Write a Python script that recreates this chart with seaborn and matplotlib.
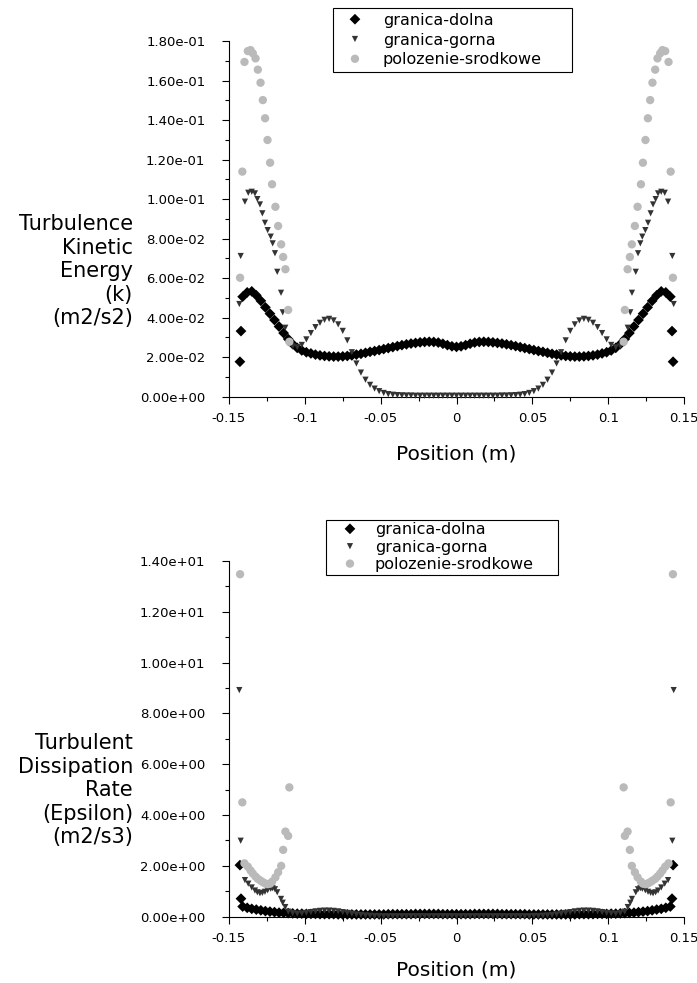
import matplotlib
matplotlib.use('Agg')
import matplotlib.pyplot as plt
from matplotlib.ticker import MultipleLocator
import seaborn as sns

# Sample positions along the lines (m)
pos_dolna = [-0.1428, -0.1421, -0.141, -0.138, -0.135, -0.132, -0.129, -0.126, -0.123, -0.120,
             -0.117, -0.114, -0.111, -0.108, -0.105, -0.102, -0.099, -0.096, -0.093, -0.090,
             -0.087, -0.084, -0.081, -0.078, -0.075, -0.072, -0.069, -0.066, -0.063, -0.060,
             -0.057, -0.054, -0.051, -0.048, -0.045, -0.042, -0.039, -0.036, -0.033, -0.030,
             -0.027, -0.024, -0.021, -0.018, -0.015, -0.012, -0.009, -0.006, -0.003, 0.000,
             0.003, 0.006, 0.009, 0.012, 0.015, 0.018, 0.021, 0.024, 0.027,
             0.030, 0.033, 0.036, 0.039, 0.042, 0.045, 0.048, 0.051, 0.054, 0.057,
             0.060, 0.063, 0.066, 0.069, 0.072, 0.075, 0.078, 0.081, 0.084, 0.087,
             0.090, 0.093, 0.096, 0.099, 0.102, 0.105, 0.108, 0.111, 0.114, 0.117,
             0.120, 0.123, 0.126, 0.129, 0.132, 0.135, 0.138, 0.141, 0.1421, 0.1428]

pos_gorna = [-0.1432, -0.1423, -0.1395, -0.1373, -0.1350, -0.1329, -0.1313, -0.1296, -0.1280, -0.1263,
             -0.1245, -0.1225, -0.1212, -0.1197, -0.1182, -0.1157, -0.1146, -0.1129, -0.1109,
             -0.108, -0.105, -0.102, -0.099, -0.096, -0.093, -0.090, -0.087, -0.084, -0.081,
             -0.078, -0.075, -0.072, -0.069, -0.066, -0.063, -0.060, -0.057, -0.054, -0.051,
             -0.048, -0.045, -0.042, -0.039, -0.036, -0.033, -0.030, -0.027, -0.024, -0.021,
             -0.018, -0.015, -0.012, -0.009, -0.006, -0.003, 0.000,
             0.003, 0.006, 0.009, 0.012, 0.015, 0.018,
             0.021, 0.024, 0.027, 0.030, 0.033, 0.036, 0.039, 0.042, 0.045, 0.048,
             0.051, 0.054, 0.057, 0.060, 0.063, 0.066, 0.069, 0.072, 0.075, 0.078,
             0.081, 0.084, 0.087, 0.090, 0.093, 0.096, 0.099, 0.102, 0.105, 0.108,
             0.1109, 0.1129, 0.1146, 0.1157, 0.1182, 0.1197, 0.1212, 0.1225, 0.1245,
             0.1263, 0.1280, 0.1296, 0.1313, 0.1329, 0.1350, 0.1373, 0.1395, 0.1423, 0.1432]

pos_srodek = [-0.1427, -0.1412, -0.1398, -0.1376, -0.1358, -0.1343, -0.1325, -0.1310, -0.1292, -0.1277,
              -0.1262, -0.1246, -0.1229, -0.1216, -0.1194, -0.1176, -0.1156, -0.1143, -0.1128, -0.1110,
              -0.1102,
              0.1102, 0.1110, 0.1128, 0.1143, 0.1156, 0.1176, 0.1194, 0.1216, 0.1229, 0.1246,
              0.1262, 0.1277, 0.1292, 0.1310, 0.1325, 0.1343, 0.1358, 0.1376, 0.1398, 0.1412,
              0.1427]

# Turbulence kinetic energy k (m2/s2)
k_dolna = [0.0177, 0.0332, 0.0506, 0.0528, 0.0533, 0.0513, 0.0485, 0.0452, 0.0420, 0.0388,
           0.0355, 0.0322, 0.0292, 0.0266, 0.0247, 0.0234, 0.0225, 0.0219, 0.0213, 0.0209,
           0.0206, 0.0204, 0.0203, 0.0203, 0.0204, 0.0206, 0.0209, 0.0213, 0.0217, 0.0222,
           0.0227, 0.0231, 0.0236, 0.0241, 0.0246, 0.0251, 0.0256, 0.0261, 0.0265, 0.0269,
           0.0272, 0.0275, 0.0277, 0.0278, 0.0277, 0.0274, 0.0268, 0.0261, 0.0255, 0.0252,
           0.0255, 0.0261, 0.0268, 0.0274, 0.0277, 0.0278, 0.0277, 0.0275, 0.0272,
           0.0269, 0.0265, 0.0261, 0.0256, 0.0251, 0.0246, 0.0241, 0.0236, 0.0231, 0.0227,
           0.0222, 0.0217, 0.0213, 0.0209, 0.0206, 0.0204, 0.0203, 0.0203, 0.0204, 0.0206,
           0.0209, 0.0213, 0.0219, 0.0225, 0.0234, 0.0247, 0.0266, 0.0292, 0.0322, 0.0355,
           0.0388, 0.0420, 0.0452, 0.0485, 0.0513, 0.0533, 0.0528, 0.0506, 0.0332, 0.0177]

k_gorna = [0.0469, 0.0712, 0.0987, 0.1032, 0.1037, 0.1029, 0.1000, 0.0973, 0.0928, 0.0880,
           0.0843, 0.0810, 0.0776, 0.0726, 0.0632, 0.0526, 0.0427, 0.0349, 0.0270,
           0.0255, 0.0250, 0.0262, 0.0290, 0.0322, 0.0352, 0.0374, 0.0389, 0.0394, 0.0386,
           0.0366, 0.0333, 0.0285, 0.0225, 0.0168, 0.0122, 0.0086, 0.0060, 0.0041, 0.0028,
           0.0019, 0.0013, 0.0010, 0.0008, 0.0007, 0.0006, 0.0006, 0.0005, 0.0005, 0.0005,
           0.0005, 0.0005, 0.0005, 0.0005, 0.0005, 0.0005, 0.0005,
           0.0005, 0.0005, 0.0005, 0.0005, 0.0005, 0.0005,
           0.0005, 0.0005, 0.0005, 0.0006, 0.0006, 0.0007, 0.0008, 0.0010, 0.0013, 0.0019,
           0.0028, 0.0041, 0.0060, 0.0086, 0.0122, 0.0168, 0.0225, 0.0285, 0.0333, 0.0366,
           0.0386, 0.0394, 0.0389, 0.0374, 0.0352, 0.0322, 0.0290, 0.0262, 0.0250, 0.0255,
           0.0270, 0.0349, 0.0427, 0.0526, 0.0632, 0.0726, 0.0776, 0.0810, 0.0843,
           0.0880, 0.0928, 0.0973, 0.1000, 0.1029, 0.1037, 0.1032, 0.0987, 0.0712, 0.0469]

k_srodek = [0.0602, 0.1139, 0.1694, 0.1749, 0.1754, 0.1738, 0.1712, 0.1655, 0.1589, 0.1501,
            0.1409, 0.1299, 0.1184, 0.1075, 0.0961, 0.0864, 0.0771, 0.0707, 0.0645, 0.0439,
            0.0278,
            0.0278, 0.0439, 0.0645, 0.0707, 0.0771, 0.0864, 0.0961, 0.1075, 0.1184, 0.1299,
            0.1409, 0.1501, 0.1589, 0.1655, 0.1712, 0.1738, 0.1754, 0.1749, 0.1694, 0.1139,
            0.0602]

# Turbulent dissipation rate epsilon (m2/s3)
eps_dolna = [2.03, 0.71, 0.40, 0.35, 0.31, 0.28, 0.25, 0.22, 0.20, 0.18,
             0.16, 0.15, 0.14, 0.13, 0.12, 0.12, 0.11, 0.11, 0.11, 0.10,
             0.10, 0.10, 0.10, 0.09, 0.09, 0.09, 0.09, 0.09, 0.09, 0.09,
             0.09, 0.09, 0.09, 0.09, 0.10, 0.10, 0.10, 0.10, 0.10, 0.10,
             0.11, 0.11, 0.11, 0.11, 0.11, 0.11, 0.10, 0.10, 0.10, 0.10,
             0.10, 0.10, 0.10, 0.11, 0.11, 0.11, 0.11, 0.11, 0.11,
             0.10, 0.10, 0.10, 0.10, 0.10, 0.10, 0.09, 0.09, 0.09, 0.09,
             0.09, 0.09, 0.09, 0.09, 0.09, 0.09, 0.09, 0.10, 0.10, 0.10,
             0.10, 0.11, 0.11, 0.11, 0.12, 0.12, 0.13, 0.14, 0.15, 0.16,
             0.18, 0.20, 0.22, 0.25, 0.28, 0.31, 0.35, 0.40, 0.71, 2.03]

eps_gorna = [8.92, 2.99, 1.44, 1.30, 1.15, 1.03, 0.96, 0.92, 0.94, 0.98,
             1.04, 1.10, 1.12, 1.08, 0.96, 0.70, 0.55, 0.38, 0.20,
             0.14, 0.12, 0.13, 0.15, 0.18, 0.21, 0.23, 0.24, 0.24, 0.23,
             0.21, 0.18, 0.15, 0.12, 0.09, 0.07, 0.05, 0.04, 0.03, 0.03,
             0.02, 0.02, 0.02, 0.02, 0.02, 0.02, 0.02, 0.02, 0.02, 0.02,
             0.02, 0.02, 0.02, 0.02, 0.02, 0.02, 0.02,
             0.02, 0.02, 0.02, 0.02, 0.02, 0.02,
             0.02, 0.02, 0.02, 0.02, 0.02, 0.02, 0.02, 0.02, 0.02, 0.02,
             0.03, 0.03, 0.04, 0.05, 0.07, 0.09, 0.12, 0.15, 0.18, 0.21,
             0.23, 0.24, 0.24, 0.23, 0.21, 0.18, 0.15, 0.13, 0.12, 0.14,
             0.20, 0.38, 0.55, 0.70, 0.96, 1.08, 1.12, 1.10, 1.04,
             0.98, 0.94, 0.92, 0.96, 1.03, 1.15, 1.30, 1.44, 2.99, 8.92]

eps_srodek = [13.48, 4.50, 2.10, 1.97, 1.82, 1.70, 1.58, 1.49, 1.42, 1.36,
              1.31, 1.28, 1.30, 1.38, 1.55, 1.75, 2.00, 2.63, 3.35, 3.18,
              5.09,
              5.09, 3.18, 3.35, 2.63, 2.00, 1.75, 1.55, 1.38, 1.30, 1.28,
              1.31, 1.36, 1.42, 1.49, 1.58, 1.70, 1.82, 1.97, 2.10, 4.50,
              13.48]

series_names = ['granica-dolna', 'granica-gorna', 'polozenie-srodkowe']

x_ticks = [-0.15, -0.1, -0.05, 0, 0.05, 0.1, 0.15]
x_tick_labels = ['-0.15', '-0.1', '-0.05', '0', '0.05', '0.1', '0.15']
k_ticks = [0.0, 0.02, 0.04, 0.06, 0.08, 0.10, 0.12, 0.14, 0.16, 0.18]
eps_ticks = [0.0, 2.0, 4.0, 6.0, 8.0, 10.0, 12.0, 14.0]

sns.set_style('ticks', rc={'axes.edgecolor': 'black', 'xtick.color': 'black',
                           'ytick.color': 'black', 'text.color': 'black'})
plt.rcParams['font.family'] = ['DejaVu Sans']

fig = plt.figure(figsize=(6.97, 9.83), dpi=100)
W, H = 697, 983
ax_k = fig.add_axes([229 / W, 1 - 396.7 / H, 455 / W, 355.7 / H])
ax_e = fig.add_axes([229 / W, 1 - 916.7 / H, 455 / W, 355.7 / H])

styles = [('D', '#000000', 30), ('v', '#333333', 20), ('o', '#bababa', 36)]


def draw(ax, xs, ys, ticks, minor):
    for name, x, y, (m, c, s) in zip(series_names, xs, ys, styles):
        sns.scatterplot(x=x, y=y, ax=ax, marker=m, color=c, s=s, linewidth=0,
                        edgecolor='none', label=name, clip_on=False, zorder=3)
    ax.set_xlim(-0.15, 0.15)
    ax.set_ylim(ticks[0], ticks[-1])
    ax.set_xticks(x_ticks)
    ax.set_xticklabels(x_tick_labels)
    ax.set_yticks(ticks)
    ax.set_yticklabels(['%.2e' % t for t in ticks])
    ax.xaxis.set_minor_locator(MultipleLocator(0.025))
    ax.yaxis.set_minor_locator(MultipleLocator(minor))
    ax.tick_params(which='major', direction='out', length=5, width=0.8, labelsize=9.5)
    ax.tick_params(which='minor', direction='out', length=3, width=0.8)
    ax.tick_params(axis='y', which='major', pad=12)
    ax.tick_params(axis='x', which='major', pad=6)
    ax.set_xlabel('')
    ax.set_ylabel('')
    for sp in ['left', 'bottom']:
        ax.spines[sp].set_linewidth(0.8)
    sns.despine(ax=ax)


draw(ax_k, [pos_dolna, pos_gorna, pos_srodek], [k_dolna, k_gorna, k_srodek], k_ticks, 0.01)
draw(ax_e, [pos_dolna, pos_gorna, pos_srodek], [eps_dolna, eps_gorna, eps_srodek], eps_ticks, 1.0)

leg = ax_k.legend(loc='upper left', bbox_to_anchor=(333 / W, 1 - 83 / H, 239 / W, 75 / H),
                  bbox_transform=fig.transFigure, mode='expand', borderaxespad=0,
                  fontsize=11.5, handlelength=2.15, handletextpad=0.675, borderpad=0.3,
                  labelspacing=0.3, scatteryoffsets=[0.5], fancybox=False, framealpha=1)
leg.get_frame().set_edgecolor('black')
leg.get_frame().set_linewidth(0.8)

leg = ax_e.legend(loc='upper left', bbox_to_anchor=(326 / W, 1 - 585 / H, 232 / W, 65 / H),
                  bbox_transform=fig.transFigure, mode='expand', borderaxespad=0,
                  fontsize=11.5, handlelength=2.7, handletextpad=0.21, borderpad=0.15,
                  labelspacing=0.15, scatteryoffsets=[0.5], fancybox=False, framealpha=1)
leg.get_frame().set_edgecolor('black')
leg.get_frame().set_linewidth(0.8)

fig.text(133 / W, 1 - 214 / H, 'Turbulence\nKinetic\nEnergy\n(k)\n(m2/s2)', ha='right', va='top',
         multialignment='right', fontsize=15, linespacing=1.22)
fig.text(133 / W, 1 - 733 / H, 'Turbulent\nDissipation\nRate\n(Epsilon)\n(m2/s3)', ha='right', va='top',
         multialignment='right', fontsize=15, linespacing=1.22)
fig.text(456.5 / W, 1 - 454 / H, 'Position (m)', ha='center', va='center', fontsize=14.5)
fig.text(456.5 / W, 1 - 970 / H, 'Position (m)', ha='center', va='center', fontsize=14.5)

fig.savefig('out.png', dpi=100)
